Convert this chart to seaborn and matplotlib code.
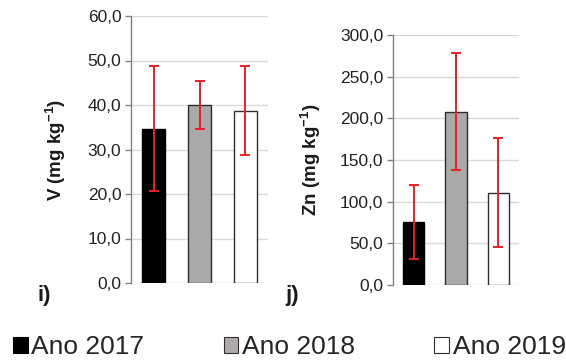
import matplotlib
matplotlib.use("Agg")
import matplotlib.pyplot as plt
from matplotlib.patches import Patch
from matplotlib.ticker import FuncFormatter
import seaborn as sns
import pandas as pd

sns.set_theme(style="white")
plt.rcParams["font.family"] = ["Liberation Sans", "DejaVu Sans"]
plt.rcParams["mathtext.fontset"] = "custom"
plt.rcParams["mathtext.rm"] = "Liberation Sans"
plt.rcParams["mathtext.bf"] = "Liberation Sans:bold"

# Data: mean and standard deviation per year
years = ["Ano 2017", "Ano 2018", "Ano 2019"]
v_mean = [34.7, 40.0, 38.7]
v_sd = [14.0, 5.45, 10.0]
zn_mean = [76.0, 208.0, 111.0]
zn_sd = [44.6, 70.5, 65.6]

bar_colors = ["#000000", "#ADA9A8", "#FFFFFF"]
edge_colors = ["#000000", "#2E2E2E", "#2E2E2E"]
err_color = "#E8202A"

fig = plt.figure(figsize=(5.66, 3.62), dpi=100)
ax_v = fig.add_axes([131 / 566, 1 - 283 / 362, 137 / 566, 267 / 362])
ax_zn = fig.add_axes([393 / 566, 1 - 285 / 362, 126 / 566, 250 / 362])

comma_fmt = FuncFormatter(lambda v, _: f"{v:.1f}".replace(".", ","))


def draw_panel(ax, mean, sd, ymax, step, ylabel):
    df = pd.DataFrame({"ano": years, "valor": mean})
    sns.barplot(data=df, x="ano", y="valor", hue="ano", palette=bar_colors,
                legend=False, width=0.5, ax=ax, zorder=3)
    for patch, ec in zip(ax.patches, edge_colors):
        patch.set_edgecolor(ec)
        patch.set_linewidth(1.0)
    ax.errorbar(range(len(years)), mean, yerr=sd, fmt="none", ecolor=err_color,
                elinewidth=1.4, capsize=3.5, capthick=1.4, zorder=4)
    ax.set_xlim(-0.49, 2.49)
    ax.set_ylim(0, ymax)
    ax.set_yticks([step * i for i in range(int(ymax / step) + 1)])
    ax.yaxis.set_major_formatter(comma_fmt)
    ax.set_xticks([])
    ax.set_xlabel("")
    ax.grid(axis="y", color="#D9D9D9", linewidth=1.0, zorder=0)
    ax.set_axisbelow(True)
    for side in ("top", "right", "bottom"):
        ax.spines[side].set_visible(False)
    ax.spines["left"].set_color("#808080")
    ax.spines["left"].set_linewidth(1.0)
    ax.tick_params(axis="y", which="major", direction="out", length=4, width=1.0,
                   color="#808080", labelsize=12.5, labelcolor="#222222", pad=3, left=True)
    ax.set_ylabel(ylabel, fontsize=13.5, fontweight="bold", color="#1A1A1A")


draw_panel(ax_v, v_mean, v_sd, 60, 10, r"V (mg kg$^{\mathbf{-1}}$)")
draw_panel(ax_zn, zn_mean, zn_sd, 300, 50, r"Zn (mg kg$^{\mathbf{-1}}$)")
ax_v.yaxis.set_label_coords(-0.46, 0.5)
ax_zn.yaxis.set_label_coords(-0.556, 0.5)

# Panel tags
fig.text(37 / 566, 1 - 296 / 362, "i)", fontsize=16, fontweight="bold",
         ha="left", va="center", color="#1A1A1A")
fig.text(285 / 566, 1 - 296 / 362, "j)", fontsize=16, fontweight="bold",
         ha="left", va="center", color="#1A1A1A")

# Year legend along the bottom
handles = [Patch(facecolor=c, edgecolor=e, linewidth=0.8)
           for c, e in zip(bar_colors, edge_colors)]
fig.legend(handles, years, loc="center left", bbox_to_anchor=(13 / 566, 1 - 347 / 362),
           ncol=3, frameon=False, fontsize=19, handlelength=0.55, handleheight=0.55,
           handletextpad=0.15, columnspacing=3.0, borderaxespad=0, borderpad=0)

fig.savefig("out.png", dpi=100)
